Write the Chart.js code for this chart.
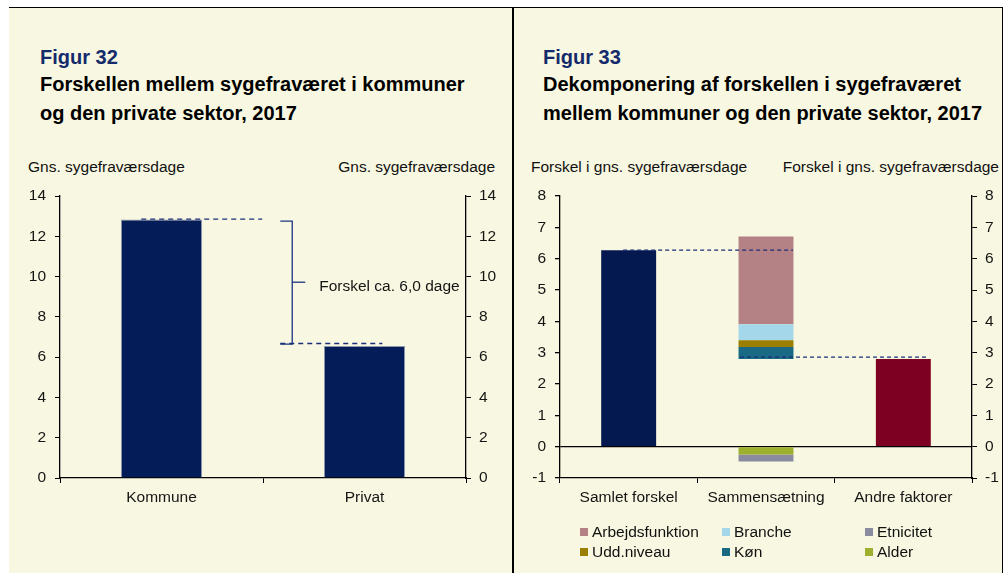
<!DOCTYPE html>
<html>
<head>
<meta charset="utf-8">
<script src="https://cdn.jsdelivr.net/npm/chart.js@4/dist/chart.umd.min.js"></script>
<style>
html,body{margin:0;padding:0;background:#fff;}
body{width:1004px;height:573px;position:relative;overflow:hidden;font-family:"Liberation Sans",Arial,sans-serif;}
.panel{position:absolute;top:8px;height:565px;background:#f8f7e1;}
#p1{left:9px;width:503px;}
#p2{left:514px;width:488px;}
.line{position:absolute;background:#000;z-index:5;}
.fig{position:absolute;font-weight:bold;font-size:20px;line-height:29px;color:#132a6b;white-space:nowrap;}
.ttl{position:absolute;font-weight:bold;font-size:20px;line-height:29px;color:#000;white-space:nowrap;}
.ax{position:absolute;font-size:15.5px;line-height:18px;color:#111;white-space:nowrap;}
canvas{position:absolute;top:0;}
.leg{position:absolute;font-size:15.5px;line-height:18px;color:#111;white-space:nowrap;}
.leg i{position:absolute;left:0;top:5px;width:8px;height:8px;}
.leg span{position:absolute;left:12px;top:0;}
</style>
</head>
<body>
<div class="panel" id="p1"></div>
<div class="panel" id="p2"></div>
<div class="line" style="left:9px;top:7px;width:994px;height:1px;"></div>
<div class="line" style="left:512px;top:7px;width:2px;height:566px;"></div>
<div class="line" style="left:1002px;top:7px;width:1px;height:566px;"></div>

<div class="fig" style="left:40px;top:43px;">Figur 32</div>
<div class="ttl" style="left:40px;top:70px;">Forskellen mellem sygefraværet i kommuner<br>og den private sektor, 2017</div>
<div class="fig" style="left:543px;top:43px;">Figur 33</div>
<div class="ttl" style="left:543px;top:70px;">Dekomponering af forskellen i sygefraværet<br>mellem kommuner og den private sektor, 2017</div>

<div class="ax" style="left:28px;top:158px;">Gns. sygefraværsdage</div>
<div class="ax" style="right:509px;top:158px;">Gns. sygefraværsdage</div>
<div class="ax" style="left:531px;top:158px;">Forskel i gns. sygefraværsdage</div>
<div class="ax" style="right:5px;top:158px;">Forskel i gns. sygefraværsdage</div>

<canvas id="c1" width="512" height="573" style="left:0;"></canvas>
<canvas id="c2" width="492" height="573" style="left:512px;"></canvas>
<div id="legend"></div>

<script>
// ---------- Data: Figur 32 ----------
const fig32Categories = ['Kommune', 'Privat'];
const fig32Values = [12.83, 6.55];
const fig32Axis = { min: 0, max: 14, step: 2 };
const fig32ConnectorLevels = [12.85, 6.68];     // dashed guide lines
const fig32BracketLevels = [12.75, 6.65, 9.72]; // bracket top, bottom, middle tick
const fig32Note = 'Forskel ca. 6,0 dage';

// ---------- Data: Figur 33 ----------
const fig33Categories = ['Samlet forskel', 'Sammensætning', 'Andre faktorer'];
const fig33Total = 6.27;        // Samlet forskel
const fig33Other = 2.80;        // Andre faktorer
const fig33CompLabels = ['Køn', 'Udd.niveau', 'Branche', 'Arbejdsfunktion', 'Alder', 'Etnicitet'];
const fig33CompValues = [0.38, 0.22, 0.51, 2.80, -0.25, -0.22];
const fig33Axis = { min: -1, max: 8, step: 1 };
const fig33ConnectorLevels = [6.27, 2.86];
const fig33LegendOrder = ['Arbejdsfunktion', 'Branche', 'Etnicitet', 'Udd.niveau', 'Køn', 'Alder'];

// ---------- Styles ----------
const FONT = '"Liberation Sans", Arial, sans-serif';
const TXT = '#151515';
const NAVY = '#041c58';
const GUIDE = '#182f78';
const compColors = {
  'Arbejdsfunktion': '#b48285',
  'Branche': '#a5d7eb',
  'Etnicitet': '#8a8aa0',
  'Udd.niveau': '#9b7f00',
  'Køn': '#1a6a86',
  'Alder': '#9db12f'
};

Chart.defaults.font.family = FONT;
Chart.defaults.font.size = 15.5;
Chart.defaults.color = TXT;
Chart.defaults.animation = false;

function fixW(w) { return s => { s.width = w; }; }
function fixH(h) { return s => { s.height = h; }; }

function yAxis(ax, pos, width, pad) {
  return {
    type: 'linear', position: pos, min: ax.min, max: ax.max,
    afterFit: fixW(width),
    ticks: { stepSize: ax.step, padding: pad, color: TXT, font: { size: 15.5 } },
    grid: { drawOnChartArea: false, tickLength: 5, color: '#000', tickColor: '#000', lineWidth: 1 },
    border: { display: true, color: '#000', width: 1.3 }
  };
}

function xAxis(height) {
  return {
    type: 'category', offset: true, stacked: true,
    afterFit: fixH(height),
    ticks: { padding: 5, color: TXT, font: { size: 15.5 } },
    grid: { offset: true, drawOnChartArea: false, tickLength: 5, color: '#000', tickColor: '#000' },
    border: { display: true, color: '#000', width: 1.3 }
  };
}

// Annotation plugin: polylines given in (category index, value) data units,
// converted to pixels through the chart's own x and y scales.
function annotPlugin(id, paths, texts) {
  return {
    id,
    afterDatasetsDraw(chart) {
      const { ctx, scales } = chart;
      const X = v => scales.x.getPixelForValue(v);
      const Y = v => scales.y.getPixelForValue(v);
      ctx.save();
      paths.forEach(p => {
        ctx.beginPath();
        ctx.setLineDash(p.dash || []);
        ctx.lineWidth = p.width;
        ctx.strokeStyle = p.color;
        p.pts.forEach(([a, b], i) => (i ? ctx.lineTo(X(a), Y(b)) : ctx.moveTo(X(a), Y(b))));
        ctx.stroke();
      });
      ctx.setLineDash([]);
      (texts || []).forEach(t => {
        ctx.font = '15.5px ' + FONT;
        ctx.fillStyle = TXT;
        ctx.textBaseline = 'middle';
        ctx.textAlign = 'left';
        ctx.fillText(t.text, X(t.x), Y(t.y));
      });
      ctx.restore();
    }
  };
}

// ---------- Figur 32 ----------
const dash32 = [5, 4];
const paths32 = [
  { pts: [[-0.10, fig32ConnectorLevels[0]], [0.496, fig32ConnectorLevels[0]]], dash: dash32, width: 1.4, color: GUIDE },
  { pts: [[0.585, fig32ConnectorLevels[1]], [1.088, fig32ConnectorLevels[1]]], dash: dash32, width: 1.4, color: GUIDE },
  { pts: [[0.585, fig32BracketLevels[0]], [0.644, fig32BracketLevels[0]],
          [0.644, fig32BracketLevels[1]], [0.585, fig32BracketLevels[1]]], width: 1.3, color: '#1b3480' },
  { pts: [[0.644, fig32BracketLevels[2]], [0.708, fig32BracketLevels[2]]], width: 1.3, color: '#1b3480' }
];
const texts32 = [{ text: fig32Note, x: 0.777, y: 9.52 }];

new Chart(document.getElementById('c1'), {
  type: 'bar',
  data: {
    labels: fig32Categories,
    datasets: [
      { data: fig32Values, backgroundColor: NAVY, borderColor: '#8c96ad', borderWidth: 1,
        barPercentage: 0.4, categoryPercentage: 1.0 }
    ]
  },
  options: {
    responsive: false,
    layout: { padding: { top: 196, left: 0, right: 0, bottom: 0 } },
    plugins: { legend: { display: false }, tooltip: { enabled: false } },
    scales: {
      x: xAxis(95),
      y: yAxis(fig32Axis, 'left', 60, 9),
      y2: yAxis(fig32Axis, 'right', 46, 8)
    }
  },
  plugins: [annotPlugin('a32', paths32, texts32)]
});

// ---------- Figur 33 ----------
const onlyAt = (idx, v) => fig33Categories.map((_, i) => (i === idx ? v : null));

const ds33 = [
  { label: 'Samlet forskel', data: onlyAt(0, fig33Total), backgroundColor: '#03194f' },
  { label: 'Andre faktorer', data: onlyAt(2, fig33Other), backgroundColor: '#7d0023' },
  { label: '_base', data: onlyAt(1, fig33Other), backgroundColor: 'rgba(0,0,0,0)' }
];
fig33CompLabels.forEach((lab, k) => {
  ds33.push({ label: lab, data: onlyAt(1, fig33CompValues[k]), backgroundColor: compColors[lab] });
});
ds33.forEach(d => { d.barPercentage = 0.4; d.categoryPercentage = 1.0; d.borderWidth = 0; });

const dash33 = [4, 3];
const paths33 = [
  { pts: [[-0.04, fig33ConnectorLevels[0]], [1.197, fig33ConnectorLevels[0]]], dash: dash33, width: 1.3, color: GUIDE },
  { pts: [[0.811, fig33ConnectorLevels[1]], [2.18, fig33ConnectorLevels[1]]], dash: dash33, width: 1.3, color: GUIDE }
];

const y33 = yAxis(fig33Axis, 'left', 48, 9);
y33.stacked = true;
y33.grid = {
  drawOnChartArea: true, tickLength: 5, tickColor: '#000', lineWidth: 1.3,
  color: c => (c.tick && c.tick.value === 0 ? '#000' : 'rgba(0,0,0,0)')
};

new Chart(document.getElementById('c2'), {
  type: 'bar',
  data: { labels: fig33Categories, datasets: ds33 },
  options: {
    responsive: false,
    layout: { padding: { top: 196, left: 0, right: 0, bottom: 0 } },
    plugins: { legend: { display: false }, tooltip: { enabled: false } },
    scales: {
      x: xAxis(95),
      y: y33,
      y2: yAxis(fig33Axis, 'right', 32, 8)
    }
  },
  plugins: [annotPlugin('a33', paths33, [])]
});

// ---------- HTML legend for Figur 33 ----------
const legCols = [580, 722, 865];
const legRows = [523, 543];
const legEl = document.getElementById('legend');
fig33LegendOrder.forEach((lab, i) => {
  const d = document.createElement('div');
  d.className = 'leg';
  d.style.left = legCols[i % 3] + 'px';
  d.style.top = legRows[Math.floor(i / 3)] + 'px';
  d.innerHTML = '<i style="background:' + compColors[lab] + '"></i><span>' + lab + '</span>';
  legEl.appendChild(d);
});
</script>
</body>
</html>
